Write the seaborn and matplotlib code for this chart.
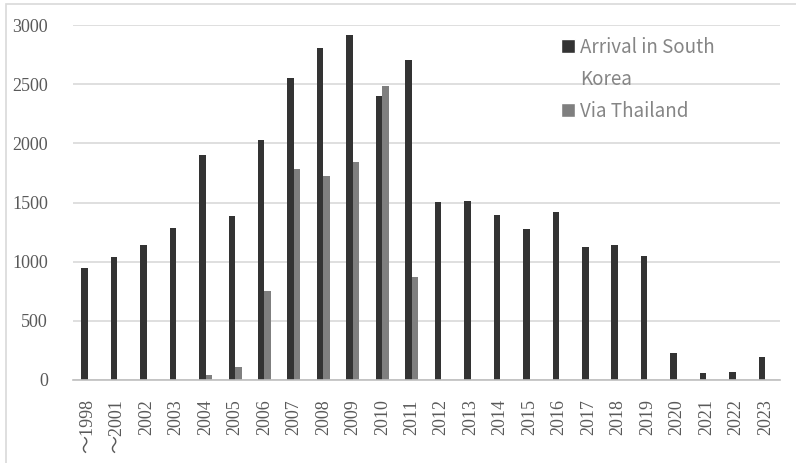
import matplotlib
matplotlib.use("Agg")
import matplotlib.pyplot as plt
from matplotlib.patches import Patch, Rectangle
import pandas as pd
import seaborn as sns

years = ["～1998", "～2001"] + [str(y) for y in range(2002, 2024)]
arrival = [947, 1043, 1142, 1285, 1898, 1384, 2028, 2554, 2803, 2914, 2402,
           2706, 1502, 1514, 1397, 1275, 1418, 1127, 1137, 1047, 229, 63, 67, 196]
via_thailand = [0, 0, 0, 0, 46, 111, 750, 1785, 1722, 1846, 2482,
                870, 0, 0, 0, 0, 0, 0, 0, 0, 0, 0, 0, 0]
series_names = ["Arrival in South Korea", "Via Thailand"]
colors = ["#333333", "#7f7f7f"]

df = pd.DataFrame({
    "year": years * 2,
    "count": arrival + via_thailand,
    "series": [series_names[0]] * len(years) + [series_names[1]] * len(years),
})

sns.set_style("white")
fig = plt.figure(figsize=(7.96, 4.63), dpi=100)
ax = fig.add_axes([73 / 796, 1 - 380 / 463, 707 / 796, 355 / 463])

sns.barplot(data=df, x="year", y="count", hue="series", palette=colors,
            width=0.44, gap=0, linewidth=0, legend=False, ax=ax)

ax.set_ylim(0, 3000)
ax.set_xlim(-0.5, len(years) - 0.5)
ax.set_yticks(range(0, 3001, 500))
ax.yaxis.grid(True, color="#d9d9d9", linewidth=1.2)
ax.set_axisbelow(True)
ax.set_xlabel("")
ax.set_ylabel("")
for s in ["left", "top", "right"]:
    ax.spines[s].set_visible(False)
ax.spines["bottom"].set_color("#bfbfbf")
ax.spines["bottom"].set_linewidth(1.2)

tick_font = ["Liberation Serif", "Noto Sans CJK JP"]
ax.tick_params(axis="both", length=0, colors="#595959")
ax.tick_params(axis="y", pad=18)
ax.tick_params(axis="x", pad=14)
for lab in ax.get_yticklabels():
    lab.set_family(tick_font)
    lab.set_fontsize(13)
ax.set_xticks(range(len(years)))
ax.set_xticklabels(years, rotation=90, family=tick_font, fontsize=13,
                   color="#595959", va="top")

# legend: second line of the first label is a blank-handle entry
handles = [Patch(facecolor=colors[0]), Patch(alpha=0), Patch(facecolor=colors[1])]
labels = ["Arrival in South", "Korea", "Via Thailand"]
leg = ax.legend(handles, labels, loc="upper left", bbox_to_anchor=(0.666, 1.014),
                frameon=False, handlelength=0.75, handleheight=0.75,
                handletextpad=0.3, labelspacing=0.58,
                prop={"family": "Noto Sans CJK JP", "size": 13.5})
for t in leg.get_texts():
    t.set_color("#858585")

fig.patches.append(Rectangle((6 / 796, -0.1), 1.1, 1.1 - 4 / 463,
                             transform=fig.transFigure, fill=False,
                             edgecolor="#d9d9d9", linewidth=1.2))

fig.savefig("out.png", dpi=100)
